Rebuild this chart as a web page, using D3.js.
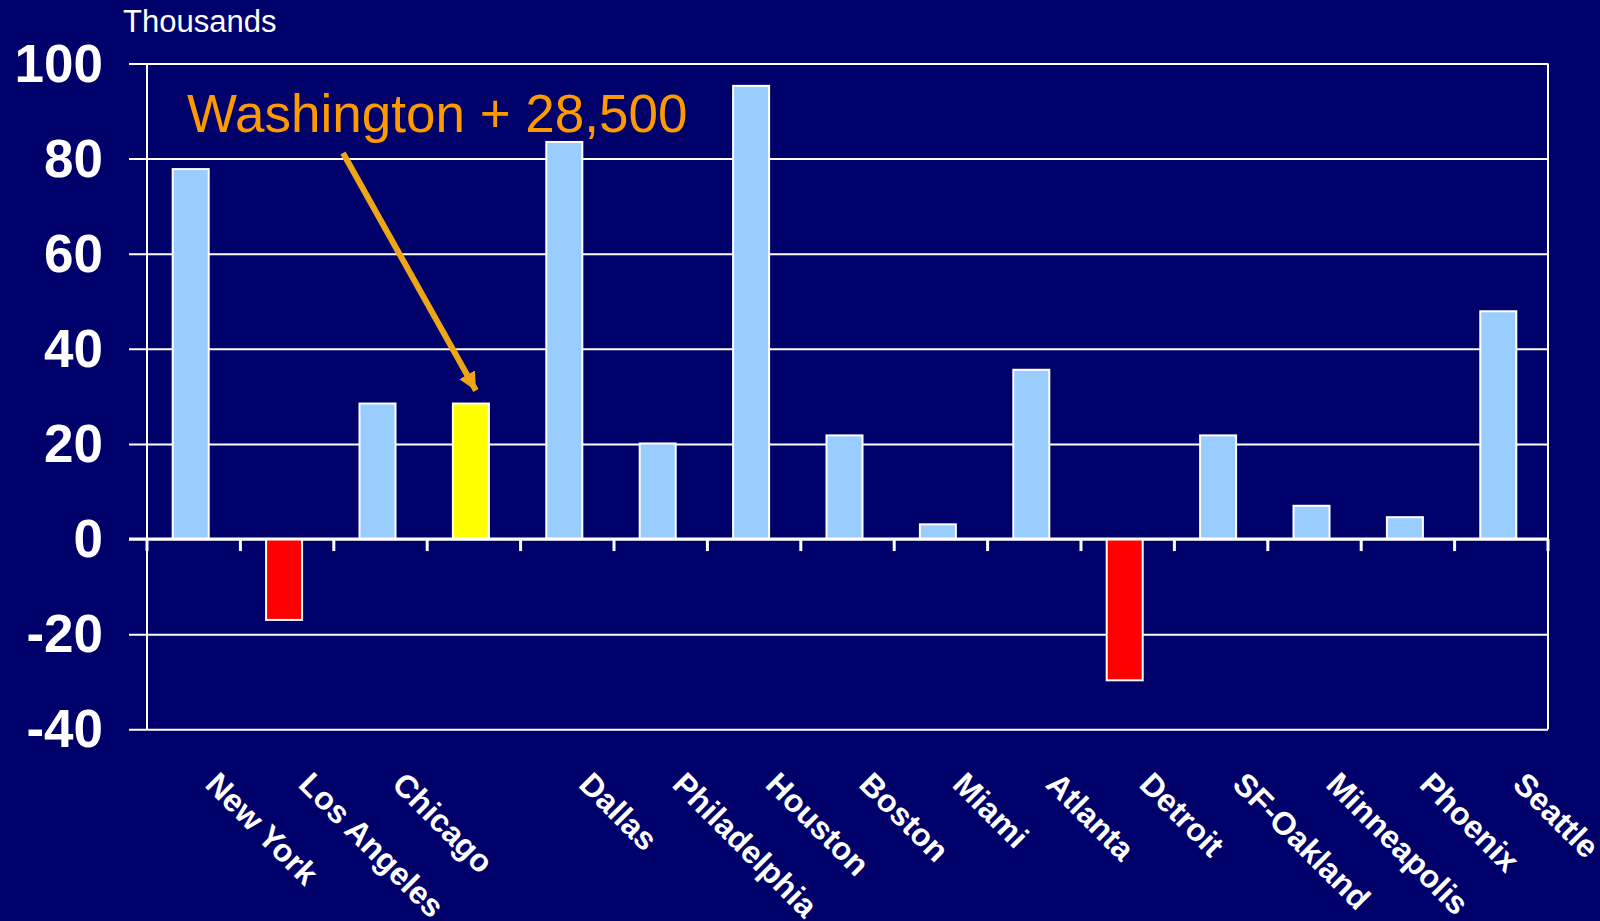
<!DOCTYPE html>
<html>
<head>
<meta charset="utf-8">
<script src="https://cdn.jsdelivr.net/npm/d3@7"></script>
<style>
  html, body { margin: 0; padding: 0; background: #00006B; }
  svg { display: block; }
</style>
</head>
<body>
<svg id="chart" width="1600" height="921"></svg>
<script>
// ---- data ----
const categories = ["New York", "Los Angeles", "Chicago", "Washington", "Dallas", "Philadelphia", "Houston", "Boston", "Miami", "Atlanta", "Detroit", "SF-Oakland", "Minneapolis", "Phoenix", "Seattle"];
const axisLabels = ["New York", "Los Angeles", "Chicago", "", "Dallas", "Philadelphia", "Houston", "Boston", "Miami", "Atlanta", "Detroit", "SF-Oakland", "Minneapolis", "Phoenix", "Seattle"];
const values = [77.8, -17, 28.5, 28.5, 83.5, 20.1, 95.3, 21.8, 3.1, 35.6, -29.7, 21.8, 7, 4.6, 47.9];
const yTicks = [-40, -20, 0, 20, 40, 60, 80, 100];
const unitLabel = "Thousands";
const annotation = "Washington + 28,500";
const highlight = "Washington";

// ---- layout ----
(function () {
const bg = "#00006B";
const mLeft = 147, mRight = 1548, mTop = 63.5, mBottom = 729.3;
const svg = d3.select("#chart");
svg.append("rect").attr("width", 1600).attr("height", 921).attr("fill", bg);

const x = d3.scaleBand().domain(categories).range([mLeft, mRight]);
const y = d3.scaleLinear().domain([-40, 100]).range([mBottom, mTop]);
const barW = 36, barShift = -3;

// gridlines + y axis
const yAxis = d3.axisLeft(y).tickValues(yTicks).tickSize(-(mRight - mLeft)).tickPadding(0).tickFormat((d) => String(d));
const gy = svg.append("g").attr("transform", `translate(${mLeft},0)`).call(yAxis);
gy.select(".domain").remove();
gy.selectAll(".tick line").attr("stroke", "#fff").attr("stroke-width", 2).attr("x1", -18)
  .attr("x2", mRight - mLeft);
gy.selectAll(".tick text")
  .attr("x", -44).attr("dy", "0.33em")
  .attr("fill", "#fff")
  .style("font-family", "'Liberation Sans', Arial, sans-serif")
  .style("font-weight", "bold").style("font-size", "53px")
  .attr("text-anchor", "end");

// plot frame verticals
svg.append("line").attr("x1", mLeft).attr("x2", mLeft).attr("y1", mTop).attr("y2", mBottom)
  .attr("stroke", "#fff").attr("stroke-width", 2);
svg.append("line").attr("x1", mRight).attr("x2", mRight).attr("y1", mTop).attr("y2", mBottom)
  .attr("stroke", "#fff").attr("stroke-width", 2);

// bars
svg.append("g").selectAll("rect").data(categories).join("rect")
  .attr("x", (c) => x(c) + x.bandwidth() / 2 - barW / 2 + barShift)
  .attr("width", barW)
  .attr("y", (c, i) => y(Math.max(0, values[i])))
  .attr("height", (c, i) => Math.abs(y(values[i]) - y(0)))
  .attr("fill", (c, i) => c === highlight ? "#FFFF00" : (values[i] < 0 ? "#FF0000" : "#99CCFF"))
  .attr("stroke", "#fff").attr("stroke-width", 2);

// zero line and category ticks
svg.append("line").attr("x1", mLeft - 18).attr("x2", mRight).attr("y1", y(0)).attr("y2", y(0))
  .attr("stroke", "#fff").attr("stroke-width", 3);
const bounds = categories.map((c) => x(c)).concat([mRight]);
svg.append("g").selectAll("line").data(bounds).join("line")
  .attr("x1", (d) => d).attr("x2", (d) => d)
  .attr("y1", y(0)).attr("y2", y(0) + 12)
  .attr("stroke", "#fff").attr("stroke-width", 3);

// x labels
svg.append("g").selectAll("text").data(categories).join("text")
  .attr("transform", (c) => `translate(${x(c) + x.bandwidth() / 2 + 10},786) rotate(45)`)
  .attr("text-anchor", "start")
  .attr("fill", "#fff")
  .style("font-family", "'Liberation Sans', Arial, sans-serif")
  .style("font-weight", "bold").style("font-size", "32px")
  .text((c, i) => axisLabels[i]);

// unit label
svg.append("text").attr("x", 123).attr("y", 32).attr("fill", "#fff")
  .style("font-family", "'Liberation Sans', Arial, sans-serif").style("font-size", "31px")
  .text(unitLabel);

// annotation
svg.append("text").attr("x", 187).attr("y", 132).attr("fill", "#FF9900")
  .style("font-family", "'Liberation Sans', Arial, sans-serif").style("font-size", "53px")
  .text(annotation);

const defs = svg.append("defs");
defs.append("marker").attr("id", "ah").attr("viewBox", "0 0 10 10")
  .attr("refX", 10).attr("refY", 5).attr("markerWidth", 3).attr("markerHeight", 3)
  .attr("markerUnits", "strokeWidth").attr("orient", "auto")
  .append("path").attr("d", "M0,0 L10,5 L0,10 z").attr("fill", "#EEA516");

const hx = x(highlight) + x.bandwidth() / 2 + barShift;
svg.append("line")
  .attr("x1", 343).attr("y1", 153)
  .attr("x2", hx + 5).attr("y2", y(28.5) - 13)
  .attr("stroke", "#EEA516").attr("stroke-width", 6)
  .attr("marker-end", "url(#ah)");
})();
</script>
</body>
</html>
